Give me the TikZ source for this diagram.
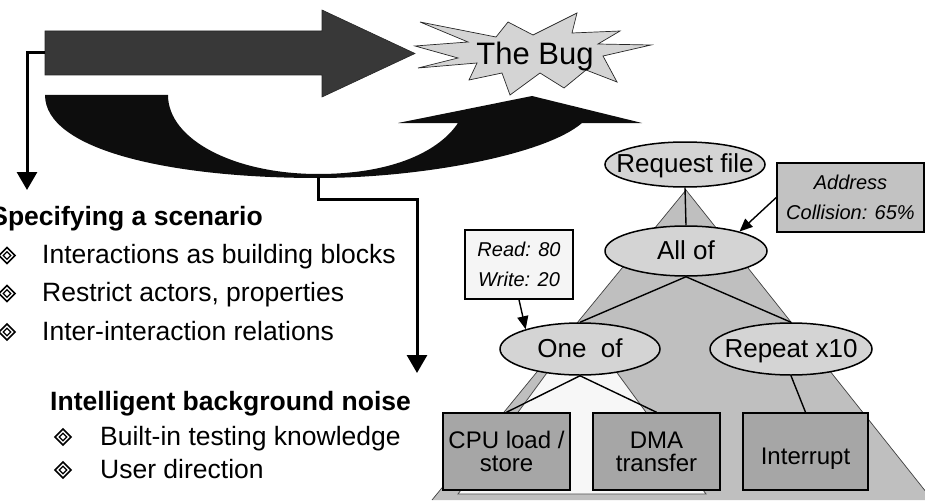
\documentclass[tikz,border=0pt]{standalone}
\usepackage{fontspec}
\setmainfont{Liberation Sans}
\usetikzlibrary{arrows.meta,shapes.geometric}

\definecolor{arrowgray}{gray}{0.22}
\definecolor{ublack}{gray}{0.05}
\definecolor{stargray}{gray}{0.83}
\definecolor{ellgray}{gray}{0.83}
\definecolor{trigray}{gray}{0.75}
\definecolor{addrgray}{gray}{0.76}
\definecolor{leafgray}{gray}{0.65}
\definecolor{rwfill}{gray}{0.96}
\definecolor{paletri}{gray}{0.97}

\begin{document}
\begin{tikzpicture}[x=1pt,y=-1pt,
  body/.style={font=\fontsize{26.5}{30}\selectfont, inner sep=0, anchor=base west},
  headline/.style={font=\fontsize{26.5}{30}\selectfont\bfseries, inner sep=0},
  conn/.style={line width=3pt, -{Triangle[width=20pt,length=18pt]}},
  tline/.style={line width=1.4pt, black},
  tarrow/.style={line width=1.4pt, -{Triangle[width=11pt,length=13pt]}},
  ell/.style={ellipse, draw=black, line width=1.5pt, fill=ellgray, inner sep=0,
    text height=19pt, text depth=3pt, font=\fontsize{26}{26}\selectfont},
  leaf/.style={rectangle, draw=black, line width=1.5pt, fill=leafgray, inner sep=0,
    minimum height=77pt, align=center, font=\fontsize{24}{23}\selectfont},
  note/.style={rectangle, draw=black, line width=1.5pt, inner sep=0,
    minimum height=69pt, align=center, font=\fontsize{20}{30}\selectfont\itshape},
  dmd/.pic={
    \draw[line width=1.6pt] (-8,0) -- (0,-8) -- (8,0) -- (0,8) -- cycle;
    \draw[line width=1.3pt] (-3.8,0) -- (0,-3.8) -- (3.8,0) -- (0,3.8) -- cycle;
  }]
\useasboundingbox (0,0) rectangle (925,500);

% forward arrow towards the bug
\filldraw[fill=arrowgray, draw=black!85, line width=0.6pt]
  (45,31) -- (322,31) -- (322,10) -- (415,53.5) -- (322,97) -- (322,75) -- (45,75) -- cycle;
\coordinate (gaL) at (45,52.5);

% U-turn arrow coming back from the bug
\fill[ublack] (45,95) -- (168,95)
  .. controls (168,140) and (235,174) .. (318,174)
  .. controls (395,174) and (440,150) .. (458,123)
  -- (398,123) -- (532,96) -- (642,123) -- (582,123)
  .. controls (545,155) and (420,178) .. (318,178)
  .. controls (170,178) and (45,150) .. (45,95) -- cycle;
\coordinate (uB) at (318,177);

% the bug burst
\filldraw[fill=stargray, draw=black!85, line width=0.7pt]
  (420,22) -- (496,37) -- (508,22) -- (533,35) -- (577,13) -- (572,33) -- (620,31)
  -- (598,44) -- (651,45) -- (603,56) -- (617,82) -- (586,70) -- (564,88) -- (540,73)
  -- (510,95) -- (502,73) -- (469,80) -- (477,63) -- (418,68) -- (458,58) -- (415,46)
  -- (468,42) -- cycle;
\node[font=\fontsize{31}{31}\selectfont, inner sep=0, anchor=base] (bug) at (535,65) {The Bug};

% connectors to the two lists
\coordinate (lend) at (27,190);
\coordinate (dn) at (417,373);
\draw[conn] (gaL) -| (lend);
\draw[conn] (uB) -- ++(0,22) -| (dn);

% scenario list
\node[headline, anchor=base east] (h1) at (263,225) {Specifying a scenario};
\pic at (7,255.5) {dmd};
\node[body] (b1) at (42,263) {Interactions as building blocks};
\pic at (7,293.5) {dmd};
\node[body] (b2) at (42,301) {Restrict actors, properties};
\pic at (7,332) {dmd};
\node[body] (b3) at (42,340) {Inter-interaction relations};

% background noise list
\node[headline, anchor=base west] (h2) at (50,410) {Intelligent background noise};
\pic at (63,437) {dmd};
\node[body] (c1) at (100,445) {Built-in testing knowledge};
\pic at (63,470) {dmd};
\node[body] (c2) at (100,478) {User direction};

% scenario tree backdrop
\fill[trigray] (686,190) -- (925,490.6) -- (925,500) -- (432,500) -- cycle;
\draw[black!75, line width=0.7pt] (432,500) -- (686,190) -- (925,490.6);
\filldraw[fill=paletri, draw=black!70, line width=0.8pt] (582,325) -- (706,494) -- (458,494) -- cycle;

% tree nodes
\node[ell, minimum width=160pt, minimum height=45pt] (req) at (685,164.5) {\makebox[0pt]{Request file}};
\node[ell, minimum width=162pt, minimum height=50pt] (allof) at (686,251) {\makebox[0pt]{All of}};
\node[ell, minimum width=160pt, minimum height=52pt] (oneof) at (580,349) {\makebox[0pt]{One\ \ of}};
\node[ell, minimum width=162pt, minimum height=52pt] (rep) at (791,349) {\makebox[0pt]{Repeat x10}};

\node[leaf, minimum width=127pt] (cpu) at (506.5,451.5) {CPU load /\\store};
\node[leaf, minimum width=127pt] (dma) at (656.5,451.5) {DMA\\transfer};
\node[leaf, minimum width=125pt] (intr) at (805.5,451.5) {\raisebox{-4pt}[17.5pt][0pt]{Interrupt}};

\node[note, fill=addrgray, minimum width=147pt] (addr) at (850.5,197.5) {Address\\Collision: 65\%};
\node[note, fill=rwfill, minimum width=108pt] (rw) at (519,264.5) {Read: 80\\Write: 20};

% tree edges
\draw[tline] (req.south) -- (allof.north);
\draw[tline] (allof.south) -- (oneof.north);
\draw[tline] (allof.south) -- (rep.north);
\draw[tline] (oneof.south) -- (cpu.north);
\draw[tline] (oneof.south) -- (dma.north);
\draw[tline] (rep.south) -- (intr.north);

% annotations
\draw[tarrow] (addr.west) -- (allof.20);
\draw[tarrow] (rw.south) -- (oneof.160);
\end{tikzpicture}
\end{document}
